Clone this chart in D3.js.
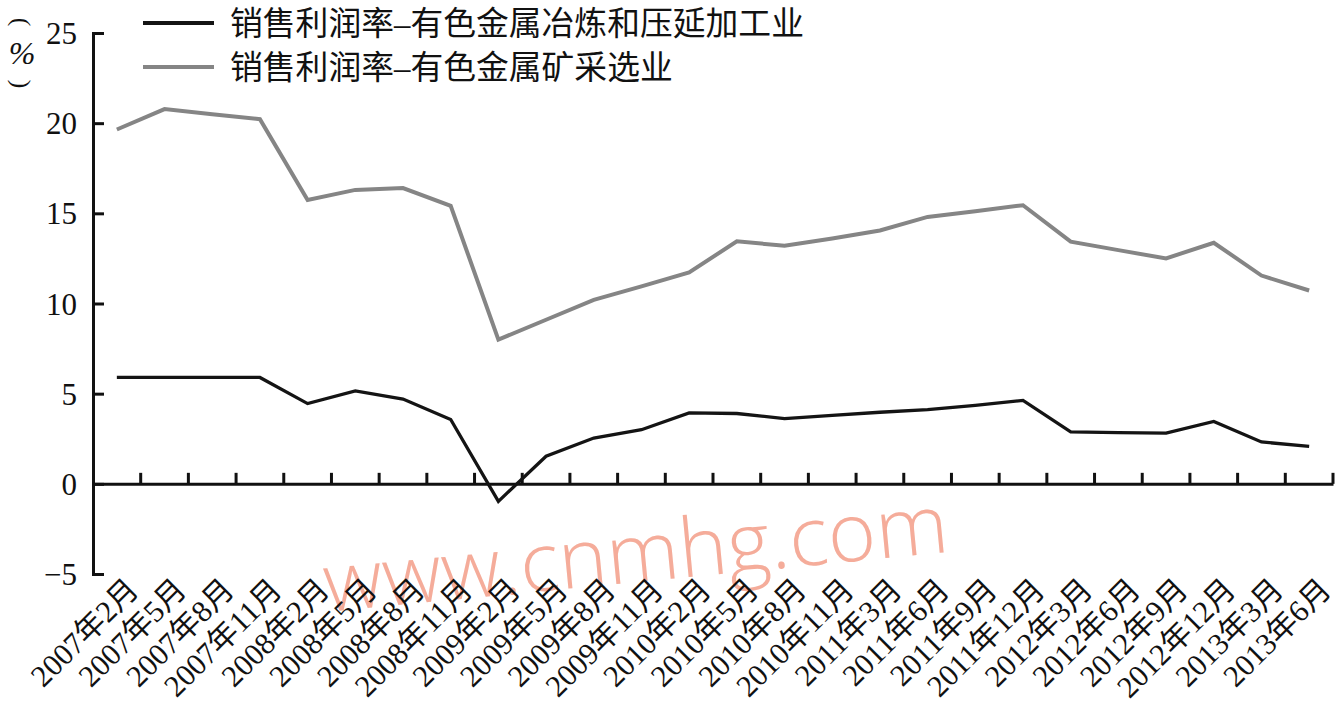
<!DOCTYPE html>
<html><head><meta charset="utf-8">
<script src="https://cdn.jsdelivr.net/npm/d3@7/dist/d3.min.js"></script>
<style>
html,body{margin:0;padding:0;background:#fff;}
svg{display:block;}
text{font-family:"Liberation Serif","Noto Sans CJK SC",serif;fill:#111;}
</style></head><body>
<svg id="c" width="1340" height="711"></svg>
<script>
const categories = ["2007年2月","2007年5月","2007年8月","2007年11月","2008年2月","2008年5月","2008年8月","2008年11月","2009年2月","2009年5月","2009年8月","2009年11月","2010年2月","2010年5月","2010年8月","2010年11月","2011年3月","2011年6月","2011年9月","2011年12月","2012年3月","2012年6月","2012年9月","2012年12月","2013年3月","2013年6月"];
const smelting = [5.9,5.9,5.9,5.9,4.45,5.15,4.7,3.57,-0.97,1.53,2.54,3.0,3.93,3.9,3.62,3.8,3.97,4.11,4.35,4.63,2.88,2.84,2.81,3.46,2.32,2.08];
const mining = [19.65,20.78,20.5,20.22,15.74,16.3,16.4,15.42,8.0,9.1,10.2,10.95,11.72,13.45,13.2,13.6,14.05,14.8,15.12,15.45,13.43,12.96,12.5,13.37,11.55,10.72];
const yTicks = [-5,0,5,10,15,20,25];
const seriesNames = ["销售利润率–有色金属冶炼和压延加工业","销售利润率–有色金属矿采选业"];
const seriesColors = ["#141414","#858585"];

const svg = d3.select("#c");
const x = d3.scaleBand().domain(categories).range([93,1333]).padding(0);
const y = d3.scaleLinear().domain([-5,25]).range([574,33]);

// watermark
svg.append("text").attr("x",326).attr("y",612)
  .attr("transform","rotate(-5.5,326,612)")
  .style("font-family","'Open Sans','Noto Sans',sans-serif").style("font-weight","300")
  .style("font-size","82px").style("fill","#f4a490").style("opacity",0.9)
  .text("www.cnmhg.com");

// y axis
const yAxis = d3.axisLeft(y).tickValues(yTicks).tickSize(-11).tickPadding(16)
  .tickFormat(d=> d<0 ? "−"+Math.abs(d) : d);
const gy = svg.append("g").attr("transform","translate(93,0)").call(yAxis);
gy.select(".domain").attr("stroke","#111").attr("stroke-width",3);
gy.selectAll(".tick line").attr("stroke","#111").attr("stroke-width",3);
gy.selectAll(".tick text").style("font-size","31px").attr("dy","0.34em").style("fill","#111");

// x axis at zero
const gx = svg.append("g").attr("transform",`translate(0,${y(0)})`)
  .call(d3.axisBottom(x).tickSize(0).tickFormat(""));
gx.select(".domain").attr("stroke","#111").attr("stroke-width",3);
svg.append("g").selectAll("line").data(categories).join("line")
  .attr("x1",d=>x(d)+x.bandwidth()).attr("x2",d=>x(d)+x.bandwidth())
  .attr("y1",y(0)).attr("y2",y(0)-11).attr("stroke","#111").attr("stroke-width",3);

// x labels
svg.append("g").selectAll("text").data(categories).join("text")
  .attr("transform",d=>`translate(${x(d)+x.bandwidth()/2+16},${584}) rotate(-45)`)
  .attr("text-anchor","end").attr("dy","0.35em")
  .style("font-size","30.5px").text(d=>d);

// y unit label (vertical)
const ul = svg.append("g");
ul.append("text").attr("transform","translate(22,22) rotate(90)").attr("text-anchor","middle")
  .attr("dy","0.33em").style("font-size","26px").style("font-family","'Liberation Serif',serif").text("(");
ul.append("text").attr("x",22).attr("y",53).attr("text-anchor","middle").attr("dy","0.35em")
  .style("font-size","32px").style("font-style","italic").text("%");
ul.append("text").attr("transform","translate(22,84) rotate(90)").attr("text-anchor","middle")
  .attr("dy","0.33em").style("font-size","26px").style("font-family","'Liberation Serif',serif").text(")");

// lines
const line = d3.line().x((d,i)=>x(categories[i])+x.bandwidth()/2).y(d=>y(d));
[mining, smelting].forEach((s,k)=>{
  const idx = k===0?1:0;
  svg.append("path").datum(s).attr("d",line).attr("fill","none")
    .attr("stroke",seriesColors[idx]).attr("stroke-width", idx===1?4:3.3).attr("stroke-linejoin","miter");
});

// legend
const lg = svg.append("g");
seriesNames.forEach((n,i)=>{
  const yy = 23 + i*44;
  lg.append("line").attr("x1",143).attr("x2",214).attr("y1",yy).attr("y2",yy)
    .attr("stroke",seriesColors[i]).attr("stroke-width",4);
  lg.append("text").attr("x",230).attr("y",yy).attr("dy","0.36em").style("font-size","32.8px").text(n);
});
</script></body></html>
